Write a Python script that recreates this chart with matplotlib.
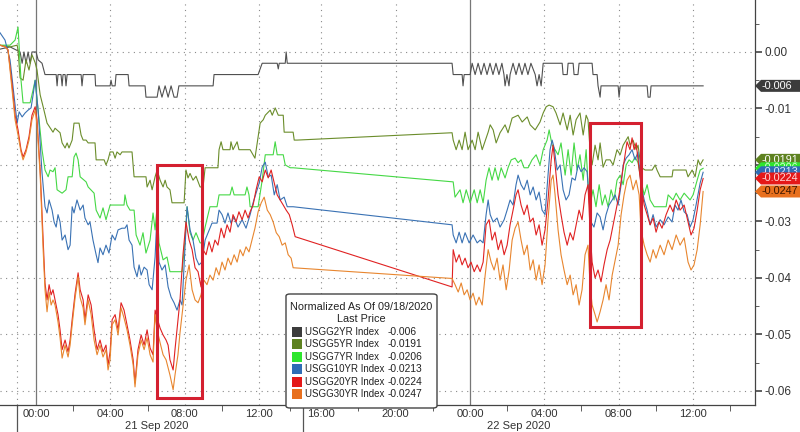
import numpy as np
import matplotlib
matplotlib.use('Agg')
import matplotlib.pyplot as plt
from matplotlib.patches import Rectangle, FancyBboxPatch, Polygon

plt.rcParams['font.family'] = ['Liberation Sans', 'DejaVu Sans']

# time in hours since 21 Sep 2020 00:00, values = change since 09/18/2020 close
GRAY_H = [-1.94, -1.4, -0.86, -0.75, -0.65, -0.54, -0.43, -0.32, -0.22, 0.0, 0.11, 0.32, 0.48,
          1.08, 1.13, 1.18, 1.34, 1.4, 1.45, 1.56, 1.61, 1.67, 2.42, 2.47, 2.53, 3.17, 3.2,
          3.98, 4.03, 4.09, 4.25, 4.3, 4.95, 5.0, 5.86, 5.91, 6.51, 6.61, 6.77, 6.94, 7.1,
          7.26, 7.42, 7.58, 7.68, 9.52, 9.57, 11.94, 12.19, 13.16, 13.23, 13.29, 13.68, 13.74,
          13.81, 23.04, 23.1, 23.58, 23.63, 23.69, 24.01, 24.12, 24.28, 24.44, 24.6, 24.76,
          24.92, 25.08, 25.24, 25.4, 25.56, 25.72, 25.83, 25.89, 25.99, 26.1, 26.16, 26.32,
          26.48, 26.64, 26.8, 26.96, 27.12, 27.28, 27.51, 27.61, 27.72, 27.83, 27.94, 28.96,
          29.01, 29.23, 29.28, 29.55, 29.6, 29.81, 29.87, 30.57, 30.62, 30.84, 30.89, 31.0,
          31.05, 31.97, 32.02, 32.08, 33.53, 33.58, 33.69, 33.74, 36.54]
GRAY_V = [0.0005, 0.0009, 0.0, -0.002, 0.0, -0.002, 0.0, -0.002, 0.0, 0.0, -0.0014, -0.002, -0.004,
          -0.004, -0.006, -0.004, -0.004, -0.006, -0.004, -0.004, -0.006, -0.004, -0.004, -0.006,
          -0.004, -0.004, -0.006, -0.006, -0.005, -0.006, -0.006, -0.004, -0.004, -0.006, -0.006,
          -0.008, -0.008, -0.006, -0.008, -0.006, -0.008, -0.006, -0.008, -0.008, -0.006, -0.006,
          -0.004, -0.004, -0.002, -0.002, -0.003, -0.002, -0.002, 0.0, -0.002, -0.002, -0.004,
          -0.004, -0.006, -0.004, -0.004, -0.002, -0.004, -0.002, -0.004, -0.002, -0.004, -0.002,
          -0.004, -0.002, -0.004, -0.002, -0.004, -0.006, -0.004, -0.006, -0.004, -0.002, -0.004,
          -0.002, -0.004, -0.002, -0.004, -0.002, -0.004, -0.006, -0.004, -0.006, -0.002, -0.002,
          -0.004, -0.004, -0.002, -0.002, -0.004, -0.004, -0.002, -0.002, -0.004, -0.004, -0.006,
          -0.008, -0.006, -0.006, -0.008, -0.006, -0.006, -0.008, -0.008, -0.006, -0.006]

OLIVE_H = [-1.94, -1.4, -1.02, -0.97, -0.86, -0.7, -0.54, -0.38, -0.22, -0.05, 0.05, 0.22, 0.38,
           0.59, 0.91, 1.02, 1.29, 1.4, 1.56, 1.67, 1.77, 1.94, 2.04, 2.31, 2.42, 2.53, 2.69, 2.8,
           3.17, 3.23, 3.66, 3.76, 3.87, 3.98, 4.14, 4.25, 4.35, 4.52, 4.62, 5.16, 5.27, 5.91,
           5.97, 6.13, 6.24, 6.4, 6.51, 6.67, 6.83, 6.94, 7.04, 7.2, 7.31, 7.96, 8.06, 8.17, 8.28,
           8.44, 8.6, 8.82, 8.98, 9.09, 9.78, 9.84, 9.95, 10.05, 10.43, 10.48, 10.59, 10.81,
           10.91, 11.51, 11.77, 12.06, 12.26, 12.39, 12.71, 12.84, 13.03, 13.23, 13.55, 13.61,
           14.19, 14.26, 14.45, 23.04, 23.1, 23.26, 23.42, 23.58, 23.74, 23.9, 24.12, 24.28,
           24.44, 24.66, 24.98, 25.09, 25.25, 25.41, 25.62, 25.89, 26.05, 26.27, 26.59, 26.81,
           27.08, 27.24, 27.51, 27.77, 27.94, 28.1, 28.26, 28.47, 28.63, 28.85, 29.01, 29.23,
           29.39, 29.55, 29.71, 29.92, 30.09, 30.25, 30.35, 30.46, 30.57, 30.73, 30.89, 31.0,
           31.16, 31.32, 31.54, 31.7, 31.91, 32.08, 32.24, 32.4, 32.51, 32.61, 32.77, 32.94,
           33.04, 33.2, 33.42, 33.8, 33.96, 34.06, 34.23, 34.87, 34.92, 35.62, 35.73, 35.95,
           36.11, 36.27, 36.38, 36.54]
OLIVE_V = [0.0012, 0.0009, 0.0012, 0.0004, -0.0046, -0.005, -0.0014, -0.0032, -0.0005, -0.0019,
           -0.0032, -0.0076, -0.0097, -0.0126, -0.0142, -0.0135, -0.0143, -0.0161, -0.017,
           -0.0161, -0.017, -0.0156, -0.0126, -0.0126, -0.0147, -0.0156, -0.0156, -0.0161,
           -0.0161, -0.0191, -0.0191, -0.02, -0.0191, -0.0177, -0.0177, -0.0188, -0.0177,
           -0.0182, -0.0177, -0.0177, -0.0221, -0.0221, -0.0239, -0.0227, -0.0244, -0.0221,
           -0.0209, -0.0227, -0.0239, -0.0227, -0.0239, -0.0244, -0.0267, -0.0267, -0.0209,
           -0.0223, -0.0215, -0.0227, -0.022, -0.0239, -0.0239, -0.0205, -0.0205, -0.0173,
           -0.0159, -0.0173, -0.0173, -0.0159, -0.0173, -0.0159, -0.0173, -0.0173, -0.0188,
           -0.0126, -0.012, -0.0112, -0.0103, -0.0112, -0.0099, -0.0112, -0.0112, -0.0142,
           -0.0142, -0.0156, -0.0156, -0.0143, -0.0156, -0.0173, -0.0156, -0.0173, -0.0142,
           -0.0173, -0.0156, -0.0173, -0.0142, -0.0173, -0.0142, -0.0129, -0.0138, -0.0161,
           -0.0143, -0.0129, -0.0143, -0.0117, -0.0112, -0.0124, -0.0115, -0.0129, -0.0138,
           -0.0124, -0.0108, -0.0097, -0.0094, -0.0097, -0.0108, -0.0129, -0.0108, -0.0138,
           -0.0112, -0.0147, -0.012, -0.0108, -0.0147, -0.0112, -0.012, -0.0173, -0.02, -0.0165,
           -0.0191, -0.0161, -0.0204, -0.0191, -0.0191, -0.02, -0.0173, -0.0182, -0.0165,
           -0.0156, -0.015, -0.0165, -0.0156, -0.0173, -0.0165, -0.0204, -0.0209, -0.0209,
           -0.02, -0.0209, -0.0221, -0.0221, -0.0209, -0.0209, -0.0221, -0.0209, -0.0221,
           -0.0191, -0.02, -0.0191]

GREEN_H = [-1.94, -1.4, -1.13, -0.97, -0.81, -0.7, -0.32, -0.16, -0.05, 0.11, 0.32, 0.48, 0.65,
           0.75, 0.91, 1.02, 1.13, 1.4, 1.61, 1.72, 1.94, 2.04, 2.15, 2.26, 2.37, 2.69, 2.8, 3.12,
           3.23, 3.44, 3.6, 3.76, 3.98, 4.73, 4.78, 4.89, 5.05, 5.27, 5.38, 5.59, 5.75, 5.91,
           6.13, 6.29, 6.4, 6.51, 6.61, 6.83, 7.04, 7.2, 7.85, 8.01, 8.12, 8.28, 8.44, 8.6, 8.82,
           8.92, 9.09, 9.35, 9.73, 9.84, 10.43, 10.54, 10.65, 11.24, 11.34, 11.45, 11.51, 11.94,
           12.19, 12.39, 12.9, 13.03, 13.16, 13.55, 13.68, 14.0, 14.19, 23.1, 23.2, 23.47, 23.63,
           23.8, 24.01, 24.23, 24.39, 24.55, 24.71, 24.87, 25.03, 25.19, 25.35, 25.52, 25.68,
           25.89, 26.05, 26.22, 26.43, 26.59, 26.75, 26.91, 27.13, 27.34, 27.56, 27.77, 27.94,
           28.15, 28.26, 28.42, 28.58, 28.74, 28.9, 29.12, 29.28, 29.44, 29.6, 29.76, 29.92,
           30.09, 30.25, 30.35, 30.46, 30.62, 30.78, 30.95, 31.11, 31.27, 31.43, 31.59, 31.75,
           31.91, 32.08, 32.24, 32.4, 32.56, 32.72, 32.88, 33.04, 33.2, 33.37, 33.53, 33.69,
           33.91, 34.55, 34.66, 34.92, 35.09, 35.3, 35.52, 35.84, 36.0, 36.22, 36.38, 36.54]
GREEN_V = [0.0012, 0.0012, 0.0021, 0.0044, -0.005, -0.009, -0.009, -0.0067, -0.005, -0.0103,
           -0.0173, -0.0209, -0.0221, -0.0209, -0.0212, -0.0205, -0.0244, -0.025, -0.0244,
           -0.0221, -0.0221, -0.0186, -0.0179, -0.0191, -0.0221, -0.023, -0.0239, -0.025,
           -0.028, -0.0294, -0.0276, -0.0297, -0.0271, -0.0271, -0.0253, -0.0271, -0.028,
           -0.028, -0.0324, -0.0342, -0.032, -0.0356, -0.0333, -0.0285, -0.0315, -0.0274,
           -0.0338, -0.0368, -0.0363, -0.0389, -0.0389, -0.0333, -0.0274, -0.032, -0.0333,
           -0.032, -0.0338, -0.0338, -0.031, -0.0274, -0.0274, -0.0253, -0.0253, -0.0239,
           -0.0253, -0.0253, -0.0239, -0.0253, -0.0274, -0.0274, -0.0227, -0.0182, -0.0182,
           -0.0159, -0.0182, -0.0182, -0.02, -0.0205, -0.0205, -0.023, -0.0257, -0.0244, -0.0267,
           -0.0244, -0.0267, -0.0244, -0.0267, -0.0244, -0.0267, -0.0227, -0.0205, -0.0227,
           -0.0205, -0.0227, -0.0205, -0.0223, -0.0205, -0.0191, -0.0188, -0.0196, -0.0191,
           -0.0205, -0.0205, -0.0191, -0.0182, -0.02, -0.0173, -0.0156, -0.0138, -0.0165,
           -0.0173, -0.0182, -0.0161, -0.0218, -0.0173, -0.0218, -0.0161, -0.0209, -0.0182,
           -0.0227, -0.0173, -0.0232, -0.0271, -0.0244, -0.0274, -0.0235, -0.0271, -0.0253,
           -0.0274, -0.0244, -0.0262, -0.0227, -0.0218, -0.0235, -0.02, -0.0191, -0.0196,
           -0.0186, -0.0196, -0.0227, -0.0253, -0.0235, -0.0262, -0.0274, -0.0274, -0.0253,
           -0.0262, -0.025, -0.0262, -0.025, -0.0262, -0.0253, -0.0227, -0.0209, -0.0206]

BLUE_H = [-1.94, -1.67, -1.4, -1.13, -1.02, -0.91, -0.75, -0.59, -0.43, -0.27, -0.16, -0.05, 0.11,
          0.32, 0.48, 0.59, 0.7, 0.86, 0.97, 1.08, 1.18, 1.29, 1.4, 1.56, 1.72, 1.83, 1.94, 2.04,
          2.2, 2.37, 2.53, 2.63, 2.8, 2.9, 3.06, 3.23, 3.33, 3.44, 3.6, 3.76, 3.92, 4.09, 4.25,
          4.41, 4.62, 4.78, 4.89, 5.0, 5.16, 5.27, 5.43, 5.54, 5.65, 5.81, 5.97, 6.08, 6.24, 6.4,
          6.51, 6.61, 6.77, 6.94, 7.1, 7.26, 7.42, 7.58, 7.74, 7.85, 7.96, 8.12, 8.28, 8.44, 8.6,
          8.76, 8.92, 9.09, 9.25, 9.46, 9.73, 9.84, 10.0, 10.16, 10.32, 10.48, 10.65, 10.86,
          11.08, 11.29, 11.51, 11.67, 11.83, 12.0, 12.19, 12.39, 12.58, 12.77, 12.97, 13.16,
          13.35, 13.61, 13.81, 14.19, 23.04, 23.1, 23.26, 23.42, 23.58, 23.74, 23.96, 24.17,
          24.39, 24.55, 24.71, 24.87, 24.98, 25.09, 25.25, 25.46, 25.62, 25.84, 26.0, 26.16,
          26.32, 26.48, 26.59, 26.75, 26.91, 27.08, 27.24, 27.4, 27.56, 27.72, 27.88, 28.04,
          28.2, 28.31, 28.42, 28.53, 28.69, 28.85, 29.01, 29.17, 29.33, 29.49, 29.66, 29.82,
          29.98, 30.14, 30.3, 30.41, 30.51, 30.67, 30.84, 31.0, 31.16, 31.32, 31.48, 31.65,
          31.81, 31.97, 32.13, 32.24, 32.4, 32.56, 32.72, 32.88, 33.04, 33.2, 33.37, 33.53,
          33.69, 33.85, 34.01, 34.23, 34.44, 34.66, 34.87, 35.03, 35.19, 35.35, 35.52, 35.68,
          35.84, 36.0, 36.16, 36.38, 36.54]
BLUE_V = [0.0034, 0.0021, -0.0014, -0.0094, -0.0126, -0.0106, -0.0115, -0.0108, -0.0103, -0.0099,
          -0.0076, -0.005, -0.0103, -0.0214, -0.0274, -0.0285, -0.0262, -0.028, -0.0301, -0.031,
          -0.0288, -0.0301, -0.0333, -0.0324, -0.035, -0.0342, -0.0274, -0.0285, -0.0262,
          -0.028, -0.0271, -0.0294, -0.0306, -0.0301, -0.0333, -0.0359, -0.0373, -0.0347,
          -0.0359, -0.0342, -0.0356, -0.0324, -0.0333, -0.0315, -0.0312, -0.0312, -0.0306,
          -0.0333, -0.0342, -0.0381, -0.0398, -0.0377, -0.0395, -0.0381, -0.0386, -0.0412,
          -0.0421, -0.0363, -0.0285, -0.0372, -0.0386, -0.0377, -0.0416, -0.0434, -0.0444,
          -0.0457, -0.0439, -0.0448, -0.0377, -0.0274, -0.0315, -0.0333, -0.0365, -0.0377,
          -0.0372, -0.0333, -0.032, -0.0303, -0.0303, -0.028, -0.0288, -0.0303, -0.0285,
          -0.0303, -0.0292, -0.031, -0.0297, -0.0312, -0.0288, -0.0267, -0.025, -0.0232,
          -0.0204, -0.0195, -0.0221, -0.0218, -0.0253, -0.0235, -0.0262, -0.0257, -0.0274,
          -0.0274, -0.0306, -0.0324, -0.0338, -0.0319, -0.0338, -0.032, -0.0338, -0.0324,
          -0.0338, -0.0333, -0.0338, -0.0288, -0.0262, -0.0288, -0.0301, -0.0294, -0.031,
          -0.0297, -0.028, -0.0262, -0.0271, -0.0235, -0.0218, -0.0235, -0.0244, -0.0227,
          -0.0253, -0.0239, -0.0262, -0.0248, -0.028, -0.0288, -0.0218, -0.0173, -0.0156,
          -0.017, -0.0209, -0.02, -0.0244, -0.0262, -0.0253, -0.0223, -0.0227, -0.02, -0.0212,
          -0.0205, -0.0212, -0.0262, -0.0301, -0.031, -0.0285, -0.0292, -0.0315, -0.0288,
          -0.0271, -0.0262, -0.0253, -0.0271, -0.0235, -0.02, -0.0188, -0.0182, -0.0173,
          -0.0191, -0.0177, -0.0235, -0.0262, -0.028, -0.0306, -0.0288, -0.031, -0.0297,
          -0.0306, -0.0292, -0.0301, -0.0271, -0.028, -0.0262, -0.0283, -0.0288, -0.031,
          -0.0297, -0.0271, -0.0232, -0.0213]

RED_H = [-1.94, -1.67, -1.51, -1.29, -1.13, -0.97, -0.81, -0.7, -0.54, -0.38, -0.22, -0.05, 0.05,
         0.22, 0.38, 0.48, 0.59, 0.7, 0.81, 0.91, 1.02, 1.18, 1.29, 1.4, 1.56, 1.72, 1.83, 1.94,
         2.1, 2.26, 2.37, 2.53, 2.63, 2.8, 2.96, 3.12, 3.28, 3.44, 3.6, 3.76, 3.87, 3.98, 4.09,
         4.25, 4.41, 4.57, 4.73, 4.89, 5.05, 5.22, 5.32, 5.48, 5.65, 5.81, 5.97, 6.13, 6.29, 6.4,
         6.51, 6.67, 6.83, 6.99, 7.1, 7.2, 7.37, 7.47, 7.63, 7.74, 7.9, 8.06, 8.23, 8.39, 8.55,
         8.71, 8.87, 8.98, 9.14, 9.3, 9.46, 9.62, 9.78, 9.95, 10.11, 10.27, 10.43, 10.59, 10.75,
         10.91, 11.08, 11.24, 11.4, 11.51, 11.67, 11.83, 12.0, 12.19, 12.39, 12.58, 12.77, 12.97,
         13.16, 13.35, 13.55, 13.74, 13.94, 14.13, 14.32, 23.04, 23.1, 23.26, 23.42, 23.58,
         23.74, 23.9, 24.06, 24.23, 24.39, 24.55, 24.71, 24.87, 25.03, 25.19, 25.35, 25.52,
         25.68, 25.84, 26.0, 26.16, 26.32, 26.48, 26.59, 26.75, 26.91, 27.08, 27.24, 27.4,
         27.56, 27.72, 27.88, 28.04, 28.2, 28.37, 28.47, 28.58, 28.74, 28.9, 29.06, 29.23,
         29.39, 29.55, 29.71, 29.87, 30.03, 30.19, 30.35, 30.46, 30.57, 30.73, 30.89, 31.05,
         31.21, 31.38, 31.54, 31.7, 31.86, 32.02, 32.18, 32.34, 32.45, 32.61, 32.72, 32.83,
         32.94, 33.04, 33.2, 33.37, 33.53, 33.69, 33.85, 34.01, 34.17, 34.33, 34.55, 34.76,
         34.92, 35.09, 35.3, 35.52, 35.73, 35.89, 36.05, 36.22, 36.38, 36.54]
RED_V = [0.0012, 0.0009, 0.0004, -0.0058, -0.0112, -0.0138, -0.0173, -0.0186, -0.0173, -0.015,
         -0.0112, -0.0097, -0.012, -0.0209, -0.0333, -0.0409, -0.0439, -0.0412, -0.043, -0.0421,
         -0.0439, -0.0465, -0.0492, -0.0527, -0.051, -0.0531, -0.051, -0.0474, -0.0427, -0.0391,
         -0.0421, -0.0439, -0.0474, -0.043, -0.0448, -0.0492, -0.0527, -0.051, -0.0531, -0.0519,
         -0.0554, -0.0531, -0.0474, -0.0465, -0.0492, -0.0444, -0.0457, -0.0483, -0.051,
         -0.0545, -0.0586, -0.0527, -0.0501, -0.0519, -0.0492, -0.0524, -0.0536, -0.0457,
         -0.0471, -0.0489, -0.0501, -0.051, -0.0519, -0.0545, -0.0563, -0.0527, -0.0474,
         -0.0439, -0.0359, -0.0301, -0.0333, -0.035, -0.0382, -0.0389, -0.0416, -0.035, -0.0359,
         -0.0336, -0.0354, -0.0333, -0.0342, -0.0312, -0.0329, -0.0306, -0.0319, -0.0288,
         -0.0301, -0.0283, -0.0297, -0.028, -0.0294, -0.0283, -0.0271, -0.0244, -0.0221, -0.023,
         -0.0209, -0.0223, -0.0209, -0.0232, -0.0253, -0.0262, -0.0271, -0.028, -0.0288,
         -0.0306, -0.0327, -0.0416, -0.035, -0.0372, -0.0359, -0.0377, -0.0365, -0.0382,
         -0.0372, -0.0389, -0.0377, -0.0389, -0.0372, -0.0306, -0.0297, -0.0333, -0.0319,
         -0.035, -0.0333, -0.0359, -0.0342, -0.0306, -0.028, -0.0253, -0.0244, -0.0271, -0.0288,
         -0.0271, -0.0301, -0.0294, -0.0324, -0.0306, -0.0342, -0.0315, -0.0262, -0.0191,
         -0.0165, -0.02, -0.0253, -0.0288, -0.0319, -0.0342, -0.032, -0.0333, -0.0306, -0.028,
         -0.0297, -0.0253, -0.0235, -0.0315, -0.0372, -0.04, -0.0386, -0.0407, -0.0377, -0.035,
         -0.0333, -0.0306, -0.028, -0.0253, -0.0218, -0.0182, -0.0159, -0.0173, -0.0152,
         -0.0173, -0.0161, -0.0191, -0.0235, -0.0271, -0.0288, -0.0306, -0.0294, -0.0319,
         -0.0301, -0.0312, -0.0288, -0.0271, -0.0283, -0.0262, -0.028, -0.0271, -0.0301,
         -0.0324, -0.0312, -0.028, -0.0244, -0.0224]

ORANGE_H = [-1.94, -1.67, -1.51, -1.29, -1.13, -0.97, -0.81, -0.7, -0.54, -0.38, -0.22, -0.05,
            0.05, 0.22, 0.38, 0.48, 0.59, 0.7, 0.81, 0.91, 1.02, 1.18, 1.29, 1.4, 1.56, 1.72,
            1.83, 1.94, 2.1, 2.26, 2.37, 2.53, 2.63, 2.8, 2.96, 3.12, 3.28, 3.44, 3.6, 3.76, 3.87,
            3.98, 4.09, 4.25, 4.41, 4.57, 4.73, 4.89, 5.05, 5.22, 5.32, 5.48, 5.65, 5.81, 5.97,
            6.13, 6.29, 6.4, 6.51, 6.67, 6.83, 6.99, 7.1, 7.2, 7.37, 7.47, 7.63, 7.74, 7.9, 8.06,
            8.23, 8.39, 8.55, 8.71, 8.87, 9.03, 9.19, 9.35, 9.52, 9.68, 9.84, 10.0, 10.16, 10.32,
            10.48, 10.65, 10.81, 10.97, 11.13, 11.29, 11.45, 11.61, 11.77, 11.94, 12.13, 12.32,
            12.52, 12.71, 12.9, 13.1, 13.29, 13.48, 13.68, 13.87, 14.06, 14.19, 23.04, 23.2,
            23.37, 23.53, 23.69, 23.85, 24.01, 24.17, 24.33, 24.49, 24.66, 24.82, 24.98, 25.14,
            25.3, 25.46, 25.62, 25.78, 25.95, 26.11, 26.27, 26.43, 26.59, 26.75, 26.91, 27.08,
            27.24, 27.4, 27.56, 27.72, 27.88, 28.04, 28.2, 28.37, 28.47, 28.58, 28.74, 28.9,
            29.06, 29.23, 29.39, 29.55, 29.71, 29.87, 30.03, 30.19, 30.35, 30.46, 30.57, 30.73,
            30.84, 31.0, 31.16, 31.32, 31.48, 31.65, 31.81, 31.97, 32.13, 32.29, 32.45, 32.61,
            32.77, 32.94, 33.1, 33.2, 33.37, 33.53, 33.69, 33.85, 34.01, 34.23, 34.44, 34.66,
            34.87, 35.09, 35.3, 35.52, 35.73, 35.89, 36.05, 36.22, 36.38, 36.54]
ORANGE_V = [0.0012, 0.0009, 0.0004, -0.0067, -0.012, -0.0147, -0.0177, -0.0191, -0.0177,
            -0.0156, -0.012, -0.0103, -0.0129, -0.0218, -0.035, -0.0421, -0.046, -0.0425,
            -0.0448, -0.0439, -0.0448, -0.0478, -0.0506, -0.0542, -0.0519, -0.054, -0.0519,
            -0.0483, -0.0435, -0.0398, -0.0435, -0.0453, -0.0483, -0.0439, -0.0465, -0.051,
            -0.0536, -0.0519, -0.054, -0.0527, -0.0563, -0.0545, -0.0483, -0.0474, -0.0501,
            -0.0453, -0.0471, -0.0492, -0.0519, -0.0554, -0.0593, -0.0536, -0.051, -0.0527,
            -0.0506, -0.0536, -0.0549, -0.0465, -0.0492, -0.0515, -0.0536, -0.0545, -0.0559,
            -0.0572, -0.0598, -0.0572, -0.0536, -0.0497, -0.0451, -0.0404, -0.0377, -0.0421,
            -0.0439, -0.0444, -0.043, -0.0404, -0.0412, -0.0395, -0.0404, -0.0382, -0.0395,
            -0.0372, -0.0386, -0.0365, -0.0377, -0.0359, -0.0372, -0.035, -0.0361, -0.0345,
            -0.0354, -0.0333, -0.0312, -0.0283, -0.0267, -0.0257, -0.028, -0.0288, -0.0301,
            -0.032, -0.0327, -0.0342, -0.0338, -0.0359, -0.0365, -0.0382, -0.0401, -0.0412,
            -0.0425, -0.0409, -0.043, -0.0421, -0.0439, -0.0427, -0.0448, -0.0434, -0.0448,
            -0.0395, -0.035, -0.0372, -0.0386, -0.0365, -0.0404, -0.0377, -0.0421, -0.0386,
            -0.0333, -0.0312, -0.0301, -0.0333, -0.0359, -0.0342, -0.0386, -0.0368, -0.0404,
            -0.0377, -0.0412, -0.0377, -0.0297, -0.0227, -0.0218, -0.0253, -0.0315, -0.0359,
            -0.0386, -0.0412, -0.0395, -0.043, -0.0412, -0.0448, -0.0421, -0.0359, -0.0342,
            -0.0412, -0.0448, -0.0465, -0.0478, -0.046, -0.0439, -0.0412, -0.0439, -0.0395,
            -0.0368, -0.0342, -0.0288, -0.0253, -0.0227, -0.0218, -0.0244, -0.0227, -0.0253,
            -0.0315, -0.0342, -0.0359, -0.0372, -0.035, -0.0365, -0.0342, -0.0359, -0.0333,
            -0.035, -0.0324, -0.0342, -0.0329, -0.0372, -0.0386, -0.0377, -0.035, -0.0306,
            -0.0247]

NAMES = ['USGG2YR Index', 'USGG5YR Index', 'USGG7YR Index',
         'USGG10YR Index', 'USGG20YR Index', 'USGG30YR Index']
LAST = [-0.006, -0.0191, -0.0206, -0.0213, -0.0224, -0.0247]
LINE_COLORS = ['#505050', '#6b8d2b', '#45d845', '#3a72b4', '#e02222', '#e8862f']
TAG_COLORS = ['#3c3c3c', '#5e8220', '#2ee62e', '#2f6db5', '#e41818', '#e8701e']
TAG_TEXT = ['white', 'white', '#d8ffd8', '#dfe8ff', '#ffd8d8', '#3a1500']

TICK_HOURS = [0, 4, 8, 12, 16, 20, 24, 28, 32, 36]
TICK_LABELS = ['00:00', '04:00', '08:00', '12:00', '16:00', '20:00',
               '00:00', '04:00', '08:00', '12:00']
MINOR_HOURS = [2, 6, 10, 14, 18, 22, 26, 30, 34, 38]
Y_TICKS = [0.0, -0.01, -0.02, -0.03, -0.04, -0.05, -0.06]

# the terminal squeezes 12:00-16:00 on the 21st, everything else is linear
REAL_H = [-10, 0, 12, 16, 50]
AXIS_H = [-10, 0, 12, 15.33, 49.33]


def fwd(h):
    return np.interp(h, REAL_H, AXIS_H)


def inv(x):
    return np.interp(x, AXIS_H, REAL_H)


W, H = 800, 432
fig = plt.figure(figsize=(W / 100, H / 100), dpi=100)
ax = fig.add_axes([0, 27 / H, 755 / W, 405 / H])
ax.set_xscale('function', functions=(fwd, inv))
ax.set_xlim(-1.94, 39.33)
ax.set_ylim(-0.0625, 0.0092)

for s in ['top', 'left']:
    ax.spines[s].set_visible(False)
for s in ['right', 'bottom']:
    ax.spines[s].set_color('#444444')
    ax.spines[s].set_linewidth(0.9)

# grid
dots = (0, (1, 4))
for y in Y_TICKS:
    ax.axhline(y, color='#8a8a8a', lw=0.8, ls=dots, zorder=1)
for x in [-1, 4, 8, 12, 16, 20, 28, 32, 36]:
    ax.axvline(x, color='#8a8a8a', lw=0.8, ls=dots, zorder=1)
for x in [0, 24]:
    ax.axvline(x, color='#777777', lw=0.9, zorder=1)

series = [(GRAY_H, GRAY_V), (OLIVE_H, OLIVE_V), (GREEN_H, GREEN_V),
          (BLUE_H, BLUE_V), (RED_H, RED_V), (ORANGE_H, ORANGE_V)]
for (hh, vv), c in zip(series, LINE_COLORS):
    ax.plot(hh, vv, color=c, lw=0.8, zorder=3)

# highlight boxes
for x0, x1, y0, y1 in [(6.5, 8.92, -0.0612, -0.02), (30.46, 33.2, -0.0487, -0.0126)]:
    ax.add_patch(Rectangle((x0, y0), x1 - x0, y1 - y0, fill=False,
                           ec='#d42030', lw=2.2, zorder=5))

# x axis
ax.set_xticks(TICK_HOURS)
ax.set_xticklabels(TICK_LABELS)
ax.set_xticks(MINOR_HOURS, minor=True)
ax.tick_params(axis='x', which='major', length=0, pad=3, labelsize=8, labelcolor='#333333')
ax.tick_params(axis='x', which='minor', length=4, color='#444444')
xt = ax.get_xaxis_transform()
for x in [-1.02, 14.84]:
    ax.plot([x, x], [0, -27 / 405], transform=xt, color='#555555', lw=0.9, clip_on=False)
ax.text(6.5, -0.053, '21 Sep 2020', transform=xt, ha='center', va='center',
        fontsize=8, color='#333333')
ax.text(26.6, -0.053, '22 Sep 2020', transform=xt, ha='center', va='center',
        fontsize=8, color='#333333')

# y axis on the right
ax.yaxis.tick_right()
ax.set_yticks(Y_TICKS)
ax.set_yticklabels(['%.2f' % abs(v) if v == 0 else '%.2f' % v for v in Y_TICKS])
ax.set_yticks([0.005, -0.005, -0.015, -0.025, -0.035, -0.045, -0.055], minor=True)
ax.tick_params(axis='y', which='major', length=5, width=1.2, pad=2, labelsize=8.5,
               labelcolor='#333333', color='#444444')
ax.tick_params(axis='y', which='minor', length=3, color='#444444')


def fx(px):
    return px / W


def fy(py):
    return 1 - py / H


# last price tags, pointed at the right spine
fig.canvas.draw()
for i in [0, 4, 3, 2, 1, 5]:
    py = H - ax.transData.transform((0, LAST[i]))[1]
    pts = [(755, py), (761, py - 6), (800, py - 6), (800, py + 6), (761, py + 6)]
    fig.patches.append(Polygon([(fx(a), fy(b)) for a, b in pts], closed=True,
                               transform=fig.transFigure, fc=TAG_COLORS[i], ec='none',
                               zorder=6 + i))
    fig.text(fx(762), fy(py), str(LAST[i]), ha='left', va='center', fontsize=7.8,
             color=TAG_TEXT[i], zorder=6 + i)

# legend box
fig.patches.append(FancyBboxPatch((fx(286), fy(408)), fx(437) - fx(286), fy(294) - fy(408),
                                  boxstyle='round,pad=0,rounding_size=0.005',
                                  transform=fig.transFigure, fc='white', ec='#444444',
                                  lw=1.0, zorder=20))
fig.text(fx(361), fy(307), 'Normalized As Of 09/18/2020', ha='center', va='center',
         fontsize=7.8, color='#222222', zorder=21)
fig.text(fx(361), fy(319), 'Last Price', ha='center', va='center',
         fontsize=7.8, color='#222222', zorder=21)
for i, (name, val, c) in enumerate(zip(NAMES, LAST, TAG_COLORS)):
    yc = 332 + i * 12.4
    fig.patches.append(Rectangle((fx(292), fy(yc + 5)), 10 / W, 10 / H, fc=c, ec='none',
                                 transform=fig.transFigure, zorder=21))
    fig.text(fx(305), fy(yc), name, ha='left', va='center', fontsize=7.0,
             color='#222222', zorder=21)
    fig.text(fx(388), fy(yc), str(val), ha='left', va='center', fontsize=7.4,
             color='#222222', zorder=21)

fig.savefig('out.png', dpi=100, facecolor='white')
